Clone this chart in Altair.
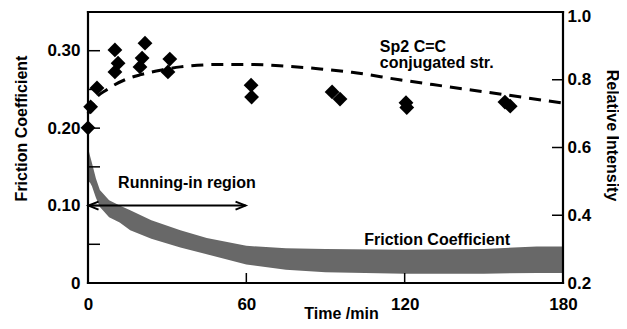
import altair as alt
import pandas as pd

# ---- data ----
fric_t  = [0, 0.7, 1.5, 3, 4.5, 8, 12, 16, 24, 35, 45, 60, 75, 90, 120, 150, 170, 180]
fric_lo = [0.13, 0.13, 0.125, 0.11, 0.098, 0.085, 0.078, 0.068, 0.057, 0.046, 0.037,
           0.024, 0.017, 0.014, 0.012, 0.012, 0.013, 0.013]
fric_hi = [0.175, 0.165, 0.155, 0.135, 0.12, 0.107, 0.10, 0.094, 0.081, 0.068, 0.058,
           0.048, 0.045, 0.044, 0.043, 0.044, 0.047, 0.047]

pt_t   = [0, 1, 3.4, 10.2, 11.4, 10.2, 21.6, 20.5, 19.7, 31, 30.3, 61.8, 62,
          92.5, 95.5, 120.5, 120.8, 158, 160]
pt_rel = [0.658, 0.720, 0.776, 0.888, 0.849, 0.823, 0.908, 0.864, 0.838, 0.861, 0.823,
          0.784, 0.749, 0.764, 0.743, 0.732, 0.718, 0.734, 0.722]

fit_t   = [0, 3, 7, 14, 20, 28, 35, 50, 62, 75, 88, 100, 118, 135, 156, 180]
fit_rel = [0.70, 0.745, 0.77, 0.80, 0.815, 0.829, 0.838, 0.845, 0.845, 0.84, 0.832,
           0.822, 0.80, 0.781, 0.758, 0.731]

x_ticks_minor = [60, 120]
left_ticks = [0.05, 0.10, 0.15, 0.20, 0.25, 0.30]
left_labels = [0, 0.10, 0.20, 0.30]
right_ticks = [0.4, 0.6, 0.8]
right_labels = [0.2, 0.4, 0.6, 0.8, 1.0]
x_labels = [0, 60, 120, 180]

X_DOM = [0, 180]
YL_DOM = [0, 0.35]
YR_DOM = [0.2, 1.0]

arrow_t = [0.2, 59.7]
arrow_y = 0.10

left_notes = pd.DataFrame({"t": [37.5, 132.3], "y": [0.1226, 0.049],
                           "txt": ["Running-in region", "Friction Coefficient"]})
right_notes = pd.DataFrame({"t": [110.6, 110.6], "y": [0.882, 0.835],
                            "txt": ["Sp2 C=C", "conjugated str."]})

FONT = "Liberation Sans"
W, H = 475, 271

fric = pd.DataFrame({"t": fric_t, "lo": fric_lo, "hi": fric_hi})
pts = pd.DataFrame({"t": pt_t, "rel": pt_rel})
fit = pd.DataFrame({"t": fit_t, "rel": fit_rel})

xs = alt.Scale(domain=X_DOM, nice=False, zero=False)
yl = alt.Scale(domain=YL_DOM, nice=False, zero=False)
yr = alt.Scale(domain=YR_DOM, nice=False, zero=False)

# inward tick lengths (12 px / 11 px / 10 px) expressed in data units
tl_x = (X_DOM[1] - X_DOM[0]) * 12 / W
tr_x = (X_DOM[1] - X_DOM[0]) * 11 / W
tb_y = (YL_DOM[1] - YL_DOM[0]) * 10 / H

x_axis = alt.Axis(values=x_labels, ticks=False, tickSize=0, domain=False, grid=False,
                  labelFlush=False,
                  labelFontSize=17, labelFontWeight="bold", labelPadding=13,
                  labelColor="black", title="Time /min", titleFontSize=16,
                  titleFontWeight="bold", titleColor="black", titleX=253, titleY=35,
                  titleAlign="center", titleBaseline="alphabetic")
left_axis = alt.Axis(orient="left", values=left_labels, ticks=False, tickSize=0,
                     domain=False, grid=False, labelFlush=False,
                     labelFontSize=17, labelFontWeight="bold",
                     labelPadding=8, labelColor="black",
                     labelExpr="datum.value == 0 ? '0' : format(datum.value, '.2f')",
                     title="Friction Coefficient", titleFontSize=16,
                     titleFontWeight="bold", titleColor="black", titleAngle=270,
                     titleX=-67, titleY=116, titleAlign="center", titleBaseline="middle")
right_axis = alt.Axis(orient="right", values=right_labels, ticks=False, tickSize=0,
                      domain=False, grid=False, labelFlush=False,
                      labelFontSize=17, labelFontWeight="bold",
                      labelPadding=4, labelColor="black", format=".1f",
                      labelOffset={"condition": {"test": "datum.value >= 0.99", "value": 4},
                                   "value": 0},
                      title="Relative Intensity", titleFontSize=16,
                      titleFontWeight="bold", titleColor="black", titleAngle=90,
                      titleX=48, titleY=123, titleAlign="center", titleBaseline="middle")


def X(f="t"):
    return alt.X(f + ":Q", scale=xs, axis=x_axis)


def YL(f):
    return alt.Y(f + ":Q", scale=yl, axis=left_axis, title="Friction Coefficient")


def YR(f):
    return alt.Y(f + ":Q", scale=yr, axis=right_axis, title="Relative Intensity")


band = alt.Chart(fric).mark_area(color="#686868").encode(
    x=X(), y=YL("lo"), y2="hi:Q")

lt = alt.Chart(pd.DataFrame({"t": [X_DOM[0]] * len(left_ticks),
                             "t2": [X_DOM[0] + tl_x] * len(left_ticks),
                             "y": left_ticks})).mark_rule(
    color="black", strokeWidth=1.5).encode(x=X(), x2="t2:Q", y=YL("y"))

bt = alt.Chart(pd.DataFrame({"t": x_ticks_minor,
                             "y": [YL_DOM[0]] * len(x_ticks_minor),
                             "y2": [YL_DOM[0] + tb_y] * len(x_ticks_minor)})).mark_rule(
    color="black", strokeWidth=1.5).encode(x=X(), y=YL("y"), y2="y2:Q")

frame = alt.Chart(pd.DataFrame({
    "t":  [X_DOM[0], X_DOM[0], X_DOM[0], X_DOM[1]],
    "t2": [X_DOM[1], X_DOM[1], X_DOM[0], X_DOM[1]],
    "y":  [YL_DOM[0], YL_DOM[1], YL_DOM[0], YL_DOM[0]],
    "y2": [YL_DOM[0], YL_DOM[1], YL_DOM[1], YL_DOM[1]],
})).mark_rule(color="black", strokeWidth=2.2, strokeCap="square").encode(
    x=X(), x2="t2:Q", y=YL("y"), y2="y2:Q")

arrow = alt.Chart(pd.DataFrame({"t": [arrow_t[0]], "t2": [arrow_t[1]], "y": [arrow_y]})
                  ).mark_rule(color="black", strokeWidth=2).encode(
    x=X(), x2="t2:Q", y=YL("y"))

head_l = alt.Chart(pd.DataFrame({"t": [arrow_t[0]], "y": [arrow_y]})).mark_point(
    shape="M1,-0.4L0,0L1,0.4", filled=False, stroke="black", strokeWidth=2,
    size=400, opacity=1).encode(x=X(), y=YL("y"))
head_r = alt.Chart(pd.DataFrame({"t": [arrow_t[1]], "y": [arrow_y]})).mark_point(
    shape="M-1,-0.4L0,0L-1,0.4", filled=False, stroke="black", strokeWidth=2,
    size=400, opacity=1).encode(x=X(), y=YL("y"))

ltext = alt.Chart(left_notes).mark_text(
    font=FONT, fontSize=16, fontWeight="bold", color="black", align="center",
    baseline="alphabetic").encode(x=X(), y=YL("y"), text="txt:N")

left = alt.layer(band, lt, bt, frame, arrow, head_l, head_r, ltext)

fitline = alt.Chart(fit).mark_line(
    color="black", strokeWidth=3, strokeDash=[12, 8], interpolate="monotone").encode(
    x=X(), y=YR("rel"))

diamonds = alt.Chart(pts).mark_point(
    shape="diamond", filled=True, color="black", size=220, opacity=1).encode(
    x=X(), y=YR("rel"))

rt = alt.Chart(pd.DataFrame({"t": [X_DOM[1] - tr_x] * len(right_ticks),
                             "t2": [X_DOM[1]] * len(right_ticks),
                             "rel": right_ticks})).mark_rule(
    color="black", strokeWidth=1.5).encode(x=X(), x2="t2:Q", y=YR("rel"))

rtext = alt.Chart(right_notes).mark_text(
    font=FONT, fontSize=16, fontWeight="bold", color="black", align="left",
    baseline="alphabetic").encode(x=X(), y=YR("y"), text="txt:N")

right = alt.layer(fitline, rt, rtext, diamonds)

chart = alt.layer(left, right).resolve_scale(y="independent").properties(
    width=W, height=H,
    autosize=alt.AutoSizeParams(type="none"),
    padding={"left": 80, "top": 4, "right": 56, "bottom": 38},
    background="white",
).configure(font=FONT).configure_view(stroke=None)

chart.save("out.html", embed_options={"renderer": "svg", "actions": False})
